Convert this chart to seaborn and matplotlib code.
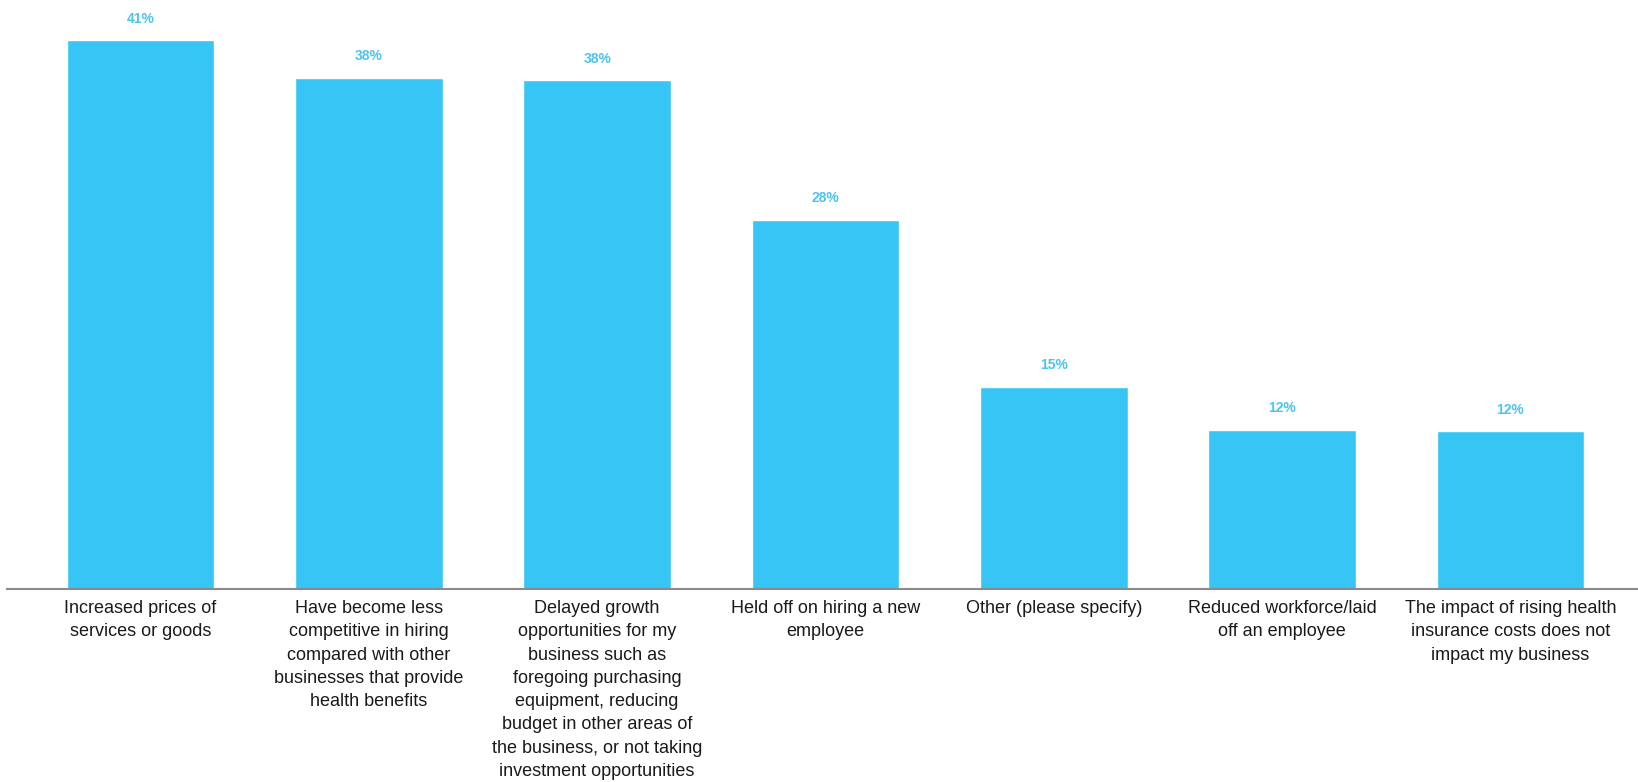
import matplotlib
matplotlib.use("Agg")
import matplotlib.pyplot as plt
import seaborn as sns
import pandas as pd

categories = [
    "Increased prices of\nservices or goods",
    "Have become less\ncompetitive in hiring\ncompared with other\nbusinesses that provide\nhealth benefits",
    "Delayed growth\nopportunities for my\nbusiness such as\nforegoing purchasing\nequipment, reducing\nbudget in other areas of\nthe business, or not taking\ninvestment opportunities",
    "Held off on hiring a new\nemployee",
    "Other (please specify)",
    "Reduced workforce/laid\noff an employee",
    "The impact of rising health\ninsurance costs does not\nimpact my business",
]
values = [41.0, 38.2, 38.0, 27.6, 15.1, 11.9, 11.8]
value_labels = ["41%", "38%", "38%", "28%", "15%", "12%", "12%"]

df = pd.DataFrame({"category": categories, "value": values})

sns.set_theme(style="white")
plt.rcParams["font.family"] = ["Liberation Sans", "DejaVu Sans"]

fig = plt.figure(figsize=(16.38, 7.82), dpi=100)
ax = fig.add_axes([7 / 1638, 1 - 589 / 782, 1 - 7 / 1638, 589 / 782])

sns.barplot(data=df, x="category", y="value", color="#36C5F4", saturation=1,
            width=0.647, ax=ax)

ax.set_xlim(-0.585, 6.559)
ax.set_ylim(0, 44.0)

for i, (v, lab) in enumerate(zip(values, value_labels)):
    ax.annotate(lab, (i, v), xytext=(0, 15.5), textcoords="offset points",
                ha="center", va="center", fontsize=10, fontweight="bold",
                color="#4DC3F0")

ax.set_xlabel("")
ax.set_ylabel("")
ax.set_yticks([])
ax.tick_params(axis="x", length=0, pad=8, labelsize=13, labelcolor="#1a1a1a")
for s in ["top", "left", "right"]:
    ax.spines[s].set_visible(False)
ax.spines["bottom"].set_color("#8a8a8a")
ax.spines["bottom"].set_linewidth(1.5)
for t in ax.get_xticklabels():
    t.set_ha("center")
    t.set_multialignment("center")
    t.set_linespacing(1.48)

fig.savefig("out.png", dpi=100)
